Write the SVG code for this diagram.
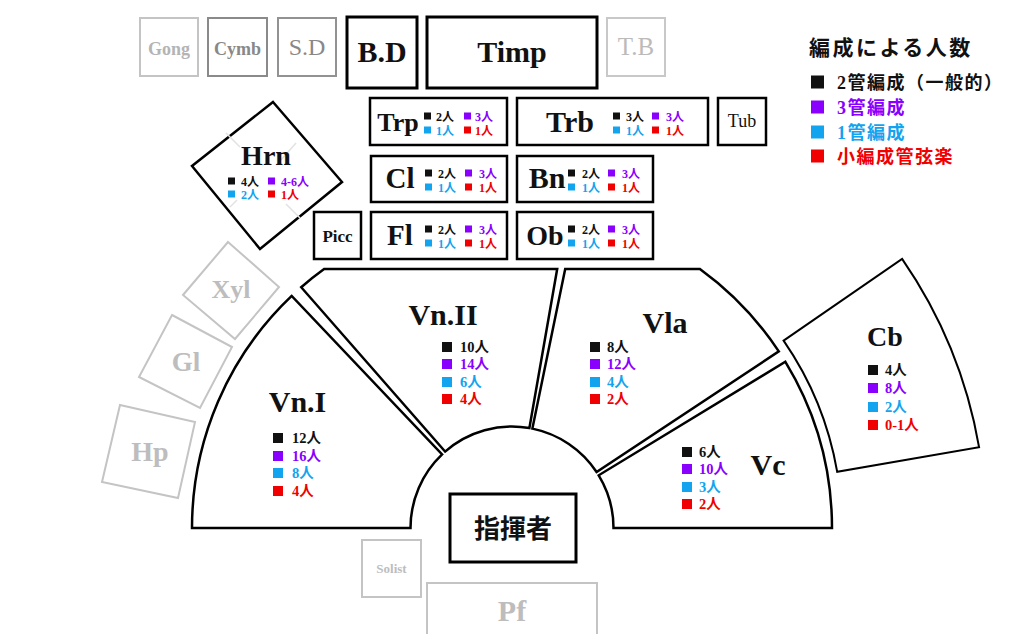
<svg xmlns="http://www.w3.org/2000/svg" width="1024" height="634" viewBox="0 0 1024 634">
<style>
.t{font-family:"Liberation Serif","Noto Sans CJK JP",serif;font-weight:700;}
.n{font-family:"Liberation Serif","Noto Sans CJK JP",serif;font-weight:400;}
.box{fill:#fff;stroke:#000;stroke-width:2.5;}
.sec{fill:#fff;stroke:#000;stroke-width:2.5;stroke-linejoin:miter;}
.pale{fill:#fff;stroke:#c4c4c4;stroke-width:2;}
.paletx{fill:#bdbdbd;}
.k{fill:#111;} .p{fill:#8a00ff;} .b{fill:#12a4ef;} .r{fill:#f00000;}
.cnt{font-family:"Liberation Serif","Noto Sans CJK JP",serif;font-weight:700;font-size:12px;}
.scnt{font-family:"Liberation Serif","Noto Sans CJK JP",serif;font-weight:700;font-size:14.5px;}
.lg{font-family:"Liberation Serif","Noto Sans CJK JP",serif;font-weight:700;font-size:18px;letter-spacing:1.5px;}
</style>
<rect width="1024" height="634" fill="#fff"/>
<g id="connectors"/>

<!-- percussion row -->
<g id="gong"><rect x="140" y="18" width="58" height="58" fill="#fff" stroke="#c4c4c4" stroke-width="2"/><text x="169" y="55" class="t" font-size="18" fill="#b4b4b4" text-anchor="middle">Gong</text></g>
<g id="cymb"><rect x="208" y="18" width="59" height="58" fill="#fff" stroke="#8a8a8a" stroke-width="2"/><text x="237.5" y="55" class="t" font-size="18" fill="#888" text-anchor="middle">Cymb</text></g>
<g id="sd"><rect x="278" y="18" width="58" height="58" fill="#fff" stroke="#929292" stroke-width="2"/><text x="307" y="55" class="n" font-size="24" fill="#888" text-anchor="middle">S.D</text></g>
<g id="bd"><rect x="347" y="17" width="70" height="71" fill="#fff" stroke="#000" stroke-width="3"/><text x="382" y="62" class="t" font-size="30" fill="#111" text-anchor="middle">B.D</text></g>
<g id="timp"><rect x="427" y="17" width="170" height="71" fill="#fff" stroke="#000" stroke-width="3"/><text x="512" y="62" class="t" font-size="30" fill="#111" text-anchor="middle">Timp</text></g>
<g id="tb"><rect x="607" y="18" width="58" height="58" fill="#fff" stroke="#c8c8c8" stroke-width="2"/><text x="636" y="55" class="n" font-size="25" fill="#bbb" text-anchor="middle">T.B</text></g>

<!-- legend -->
<g id="legend">
<text x="809" y="55" font-family="'Noto Sans CJK JP',sans-serif" font-weight="700" font-size="21" letter-spacing="2.5" fill="#111">編成による人数</text>
<rect x="811" y="75.5" width="13" height="13" class="k"/><text x="837" y="89" class="lg k">2管編成（一般的）</text>
<rect x="811" y="100.5" width="13" height="13" class="p"/><text x="837" y="114" class="lg p">3管編成</text>
<rect x="811" y="125.5" width="13" height="13" class="b"/><text x="837" y="139" class="lg b">1管編成</text>
<rect x="811" y="149.5" width="13" height="13" class="r"/><text x="837" y="163" class="lg r">小編成管弦楽</text>
</g>

<!-- brass / winds -->
<g id="trp"><rect x="370" y="98" width="137" height="47" class="box"/><text x="398" y="131" class="t" font-size="26" fill="#111" text-anchor="middle">Trp</text>
<rect x="424" y="112.5" width="7" height="7" class="k"/><text x="436" y="120.5" class="cnt k">2人</text>
<rect x="464" y="112.5" width="7" height="7" class="p"/><text x="475" y="120.5" class="cnt p">3人</text>
<rect x="424" y="126.5" width="7" height="7" class="b"/><text x="436" y="134.5" class="cnt b">1人</text>
<rect x="464" y="126.5" width="7" height="7" class="r"/><text x="475" y="134.5" class="cnt r">1人</text></g>

<g id="trb"><rect x="517" y="98" width="191" height="47" class="box"/><text x="570" y="132" class="t" font-size="30" fill="#111" text-anchor="middle">Trb</text>
<rect x="613" y="112.5" width="7" height="7" class="k"/><text x="626" y="120.5" class="cnt k">3人</text>
<rect x="652" y="112.5" width="7" height="7" class="p"/><text x="666" y="120.5" class="cnt p">3人</text>
<rect x="613" y="126.5" width="7" height="7" class="b"/><text x="626" y="134.5" class="cnt b">1人</text>
<rect x="652" y="126.5" width="7" height="7" class="r"/><text x="666" y="134.5" class="cnt r">1人</text></g>

<g id="tub"><rect x="718" y="98" width="48" height="47" class="box"/><text x="742" y="127" class="n" font-size="18" fill="#111" text-anchor="middle">Tub</text></g>

<g id="cl"><rect x="371" y="156" width="136" height="46" class="box"/><text x="400" y="188" class="t" font-size="29" fill="#111" text-anchor="middle">Cl</text>
<rect x="425" y="169.5" width="7" height="7" class="k"/><text x="438" y="177.5" class="cnt k">2人</text>
<rect x="465" y="169.5" width="7" height="7" class="p"/><text x="479" y="177.5" class="cnt p">3人</text>
<rect x="425" y="183.5" width="7" height="7" class="b"/><text x="438" y="191.5" class="cnt b">1人</text>
<rect x="465" y="183.5" width="7" height="7" class="r"/><text x="479" y="191.5" class="cnt r">1人</text></g>

<g id="bn"><rect x="517" y="156" width="136" height="46" class="box"/><text x="547" y="188" class="t" font-size="30" fill="#111" text-anchor="middle">Bn</text>
<rect x="568" y="169.5" width="7" height="7" class="k"/><text x="582" y="177.5" class="cnt k">2人</text>
<rect x="608" y="169.5" width="7" height="7" class="p"/><text x="622" y="177.5" class="cnt p">3人</text>
<rect x="568" y="183.5" width="7" height="7" class="b"/><text x="582" y="191.5" class="cnt b">1人</text>
<rect x="608" y="183.5" width="7" height="7" class="r"/><text x="622" y="191.5" class="cnt r">1人</text></g>

<g id="picc"><rect x="314" y="212" width="47" height="47" class="box"/><text x="337.5" y="242" class="t" font-size="17" fill="#111" text-anchor="middle">Picc</text></g>

<g id="fl"><rect x="371" y="212" width="136" height="47" class="box"/><text x="400" y="245" class="t" font-size="29" fill="#111" text-anchor="middle">Fl</text>
<rect x="425" y="225.5" width="7" height="7" class="k"/><text x="438" y="233.5" class="cnt k">2人</text>
<rect x="465" y="225.5" width="7" height="7" class="p"/><text x="479" y="233.5" class="cnt p">3人</text>
<rect x="425" y="239.5" width="7" height="7" class="b"/><text x="438" y="247.5" class="cnt b">1人</text>
<rect x="465" y="239.5" width="7" height="7" class="r"/><text x="479" y="247.5" class="cnt r">1人</text></g>

<g id="ob"><rect x="517" y="212" width="136" height="47" class="box"/><text x="545" y="245" class="t" font-size="28" fill="#111" text-anchor="middle">Ob</text>
<rect x="568" y="225.5" width="7" height="7" class="k"/><text x="582" y="233.5" class="cnt k">2人</text>
<rect x="608" y="225.5" width="7" height="7" class="p"/><text x="622" y="233.5" class="cnt p">3人</text>
<rect x="568" y="239.5" width="7" height="7" class="b"/><text x="582" y="247.5" class="cnt b">1人</text>
<rect x="608" y="239.5" width="7" height="7" class="r"/><text x="622" y="247.5" class="cnt r">1人</text></g>

<!-- horn -->
<g id="hrn"><polygon points="273,102 342,182 260,249 192,166" fill="#fff" stroke="#000" stroke-width="2.5"/>
<g stroke="#e2e2e2" stroke-width="1.5"><line x1="226" y1="133" x2="240" y2="147"/><line x1="296" y1="143" x2="281" y2="160"/><line x1="286" y1="204" x2="300" y2="218"/><line x1="237" y1="200" x2="230" y2="207"/></g>
<text x="266" y="165" class="t" font-size="28" fill="#111" text-anchor="middle">Hrn</text>
<rect x="228" y="177.5" width="7" height="7" class="k"/><text x="241" y="185.5" class="cnt k">4人</text>
<rect x="268" y="177.5" width="7" height="7" class="p"/><text x="281" y="185.5" class="cnt p">4-6人</text>
<rect x="228" y="190.5" width="7" height="7" class="b"/><text x="241" y="198.5" class="cnt b">2人</text>
<rect x="268" y="190.5" width="7" height="7" class="r"/><text x="281" y="198.5" class="cnt r">1人</text></g>

<!-- pale keyboard percussion -->
<g id="xyl"><polygon points="228,242 279,287 235,339 183,295" class="pale"/><text x="231" y="298" class="t paletx" font-size="26" text-anchor="middle">Xyl</text></g>
<g id="gl"><polygon points="172,315 232,347 200,408 139,377" class="pale"/><text x="186" y="371" class="t paletx" font-size="27" text-anchor="middle">Gl</text></g>
<g id="hp"><polygon points="120,405 195,422 178,498 102,482" class="pale"/><text x="150" y="461" class="t paletx" font-size="28" text-anchor="middle">Hp</text></g>

<!-- strings -->
<g id="vn1"><path class="sec" d="M192,528 A320,320 0 0 1 291.7,295.9 L442.1,454.4 A101.5,101.5 0 0 0 410.5,528 Z"/>
<text x="297.5" y="412" class="t" font-size="30" fill="#111" text-anchor="middle">Vn.I</text>
<rect x="273" y="433" width="10" height="10" class="k"/><text x="292" y="443" class="scnt k">12人</text>
<rect x="273" y="451" width="10" height="10" class="p"/><text x="292" y="461" class="scnt p">16人</text>
<rect x="273" y="468" width="10" height="10" class="b"/><text x="292" y="478" class="scnt b">8人</text>
<rect x="273" y="486" width="10" height="10" class="r"/><text x="292" y="496" class="scnt r">4人</text></g>

<g id="vn2"><path class="sec" d="M301.2,287.2 A320,320 0 0 1 324.1,269 L557.2,269 L529.4,428 A101.5,101.5 0 0 0 445.1,451.6 Z"/>
<text x="443" y="325" class="t" font-size="30" fill="#111" text-anchor="middle">Vn.II</text>
<rect x="442" y="342" width="10" height="10" class="k"/><text x="460" y="352" class="scnt k">10人</text>
<rect x="442" y="359" width="10" height="10" class="p"/><text x="460" y="369" class="scnt p">14人</text>
<rect x="442" y="377" width="10" height="10" class="b"/><text x="460" y="387" class="scnt b">6人</text>
<rect x="442" y="394" width="10" height="10" class="r"/><text x="460" y="404" class="scnt r">4人</text></g>

<g id="vla"><path class="sec" d="M565.2,269 L699.9,269 A320,320 0 0 1 778.8,351.4 L596.6,472 A101.5,101.5 0 0 0 532.4,428.6 Z"/>
<text x="665" y="333" class="t" font-size="30" fill="#111" text-anchor="middle">Vla</text>
<rect x="590" y="342" width="10" height="10" class="k"/><text x="607" y="352" class="scnt k">8人</text>
<rect x="590" y="359" width="10" height="10" class="p"/><text x="607" y="369" class="scnt p">12人</text>
<rect x="590" y="377" width="10" height="10" class="b"/><text x="607" y="387" class="scnt b">4人</text>
<rect x="590" y="394" width="10" height="10" class="r"/><text x="607" y="404" class="scnt r">2人</text></g>

<g id="vc"><path class="sec" d="M785.4,361.8 A320,320 0 0 1 832,528 L613.5,528 A101.5,101.5 0 0 0 598.7,475.3 Z"/>
<text x="768" y="475" class="t" font-size="30" fill="#111" text-anchor="middle">Vc</text>
<rect x="682" y="447" width="10" height="10" class="k"/><text x="699" y="457" class="scnt k">6人</text>
<rect x="682" y="464" width="10" height="10" class="p"/><text x="699" y="474" class="scnt p">10人</text>
<rect x="682" y="482" width="10" height="10" class="b"/><text x="699" y="492" class="scnt b">3人</text>
<rect x="682" y="499" width="10" height="10" class="r"/><text x="699" y="509" class="scnt r">2人</text></g>

<g id="cb"><path d="M783.6,340.6 L902.1,258.9 A474,474 0 0 1 979.1,447.3 L837.2,471.8 A330,330 0 0 0 783.6,340.6 Z" fill="#fff" stroke="#000" stroke-width="2"/>
<text x="885" y="346" class="t" font-size="28" fill="#111" text-anchor="middle">Cb</text>
<rect x="868" y="365" width="10" height="10" class="k"/><text x="885" y="375" class="scnt k">4人</text>
<rect x="868" y="383" width="10" height="10" class="p"/><text x="885" y="393" class="scnt p">8人</text>
<rect x="868" y="402" width="10" height="10" class="b"/><text x="885" y="412" class="scnt b">2人</text>
<rect x="868" y="420" width="10" height="10" class="r"/><text x="885" y="430" class="scnt r">0-1人</text></g>

<!-- conductor & soloists -->
<g id="conductor"><rect x="450" y="494" width="126" height="68" fill="#fff" stroke="#000" stroke-width="3"/><text x="513" y="538" font-family="'Noto Sans CJK JP',sans-serif" font-weight="700" font-size="26" fill="#111" text-anchor="middle">指揮者</text></g>
<g id="solist"><rect x="362" y="540" width="59" height="57" class="pale"/><text x="391.5" y="573" class="t paletx" font-size="13" text-anchor="middle">Solist</text></g>
<g id="pf"><rect x="427" y="583" width="170" height="60" class="pale"/><text x="512" y="621" class="t paletx" font-size="30" text-anchor="middle">Pf</text></g>
</svg>
